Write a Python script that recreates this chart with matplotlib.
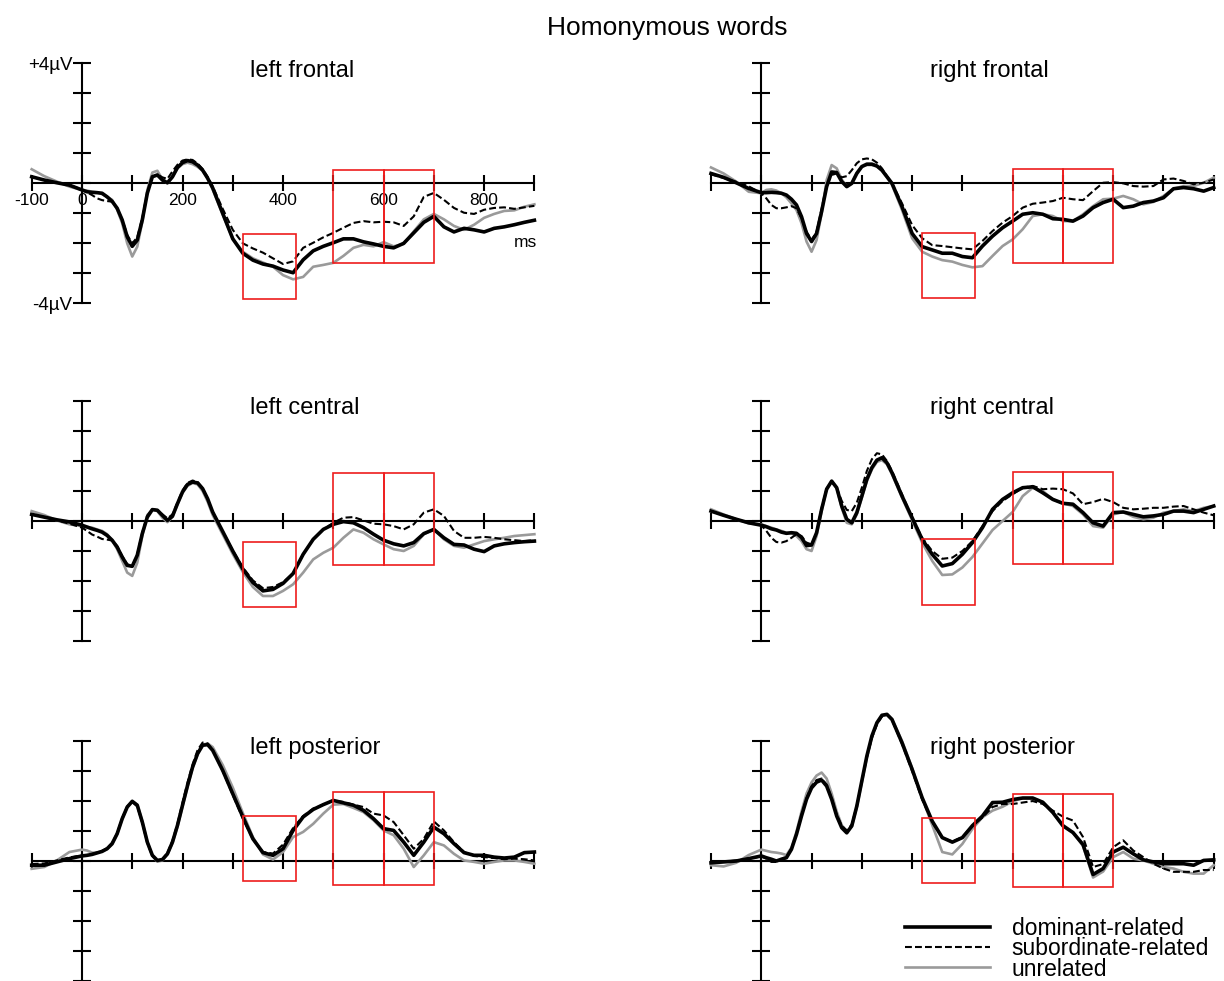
import matplotlib
matplotlib.use("Agg")
import matplotlib.pyplot as plt
from matplotlib.patches import Rectangle
from matplotlib.lines import Line2D

plt.rcParams['font.family'] = ['Liberation Sans', 'DejaVu Sans']

# sample times in ms (denser around the early peaks)
t = [-100, -75, -50, -25, 0] + list(range(10, 261, 10)) + list(range(280, 901, 20))

# ---- amplitudes in microvolts ----
# left frontal
lf_dom = [0.22, 0.11, 0.02, -0.06, -0.22,
          -0.28, -0.30, -0.31, -0.33, -0.45, -0.60, -0.83, -1.22,
          -1.78, -2.10, -1.89, -1.22, -0.33, 0.22, 0.28, 0.11,
          0.02, 0.22, 0.53, 0.69, 0.76, 0.72, 0.61, 0.44,
          0.17, -0.15,
          -1.00, -1.85, -2.33, -2.56, -2.69, -2.76, -2.89, -2.98,
          -2.55, -2.25, -2.10, -1.98, -1.85, -1.85, -1.95, -2.02,
          -2.10, -2.15, -2.00, -1.65, -1.30, -1.10, -1.45, -1.62,
          -1.50, -1.55, -1.62, -1.50, -1.45, -1.38, -1.30, -1.23]
lf_sub = [0.22, 0.11, 0.02, -0.06, -0.20,
          -0.30, -0.39, -0.50, -0.56, -0.59, -0.61, -0.83, -1.20,
          -1.72, -2.00, -1.80, -1.15, -0.30, 0.22, 0.30, 0.20,
          0.15, 0.40, 0.62, 0.76, 0.80, 0.78, 0.66, 0.48,
          0.22, -0.10,
          -0.85, -1.55, -2.00, -2.17, -2.31, -2.50, -2.69, -2.60,
          -2.15, -1.98, -1.80, -1.65, -1.48, -1.32, -1.26, -1.30,
          -1.28, -1.30, -1.42, -1.10, -0.45, -0.32, -0.55, -0.82,
          -0.98, -1.02, -0.88, -0.82, -0.80, -0.85, -0.80, -0.75]
lf_unr = [0.47, 0.24, 0.06, -0.11, -0.22,
          -0.24, -0.28, -0.30, -0.36, -0.45, -0.55, -0.88, -1.33,
          -2.00, -2.44, -2.11, -1.28, -0.22, 0.36, 0.42, 0.13,
          0.00, 0.20, 0.50, 0.64, 0.69, 0.64, 0.55, 0.42,
          0.17, -0.20,
          -1.05, -1.85, -2.28, -2.50, -2.64, -2.78, -3.06, -3.20,
          -3.12, -2.78, -2.72, -2.65, -2.42, -2.15, -2.05, -2.10,
          -1.96, -2.10, -2.02, -1.60, -1.20, -1.02, -1.20, -1.42,
          -1.55, -1.38, -1.15, -1.02, -0.92, -0.90, -0.78, -0.70]

# right frontal
rf_dom = [0.33, 0.20, 0.02, -0.17, -0.31,
          -0.31, -0.30, -0.31, -0.33, -0.39, -0.53, -0.72, -1.11,
          -1.67, -1.94, -1.67, -0.94, -0.11, 0.38, 0.36, 0.06,
          -0.11, 0.00, 0.33, 0.56, 0.64, 0.64, 0.58, 0.44,
          0.22, 0.00,
          -0.78, -1.67, -2.11, -2.22, -2.33, -2.33, -2.44, -2.48,
          -2.09, -1.76, -1.48, -1.26, -1.03, -0.98, -1.03, -1.18,
          -1.20, -1.26, -1.09, -0.81, -0.64, -0.53, -0.81, -0.76,
          -0.64, -0.59, -0.48, -0.18, -0.14, -0.18, -0.26, -0.14]
rf_sub = [0.30, 0.18, 0.05, -0.10, -0.33,
          -0.50, -0.72, -0.83, -0.83, -0.80, -0.76, -0.83, -1.17,
          -1.61, -1.89, -1.61, -0.85, -0.05, 0.28, 0.33, 0.20,
          0.24, 0.44, 0.67, 0.80, 0.83, 0.80, 0.69, 0.50,
          0.24, 0.00,
          -0.67, -1.39, -1.83, -2.06, -2.09, -2.13, -2.17, -2.20,
          -1.92, -1.59, -1.31, -1.09, -0.81, -0.68, -0.64, -0.59,
          -0.48, -0.53, -0.56, -0.26, 0.02, 0.04, 0.00, -0.09,
          -0.11, -0.09, 0.13, 0.16, 0.08, -0.03, 0.02, 0.13]
rf_unr = [0.53, 0.33, 0.06, -0.28, -0.33,
          -0.22, -0.20, -0.24, -0.33, -0.47, -0.67, -0.89, -1.33,
          -1.94, -2.28, -1.89, -1.00, 0.11, 0.61, 0.50, 0.13,
          -0.11, 0.00, 0.36, 0.56, 0.61, 0.61, 0.56, 0.42,
          0.20, -0.05,
          -0.89, -1.83, -2.28, -2.44, -2.56, -2.61, -2.72, -2.80,
          -2.76, -2.42, -2.09, -1.87, -1.53, -1.09, -1.03, -1.09,
          -1.26, -1.26, -1.03, -0.76, -0.53, -0.51, -0.42, -0.53,
          -0.70, -0.62, -0.42, -0.18, -0.09, -0.09, 0.02, 0.19]

# left central
lc_dom = [0.22, 0.13, 0.04, -0.03, -0.14,
          -0.20, -0.26, -0.31, -0.37, -0.48, -0.64, -0.87, -1.20,
          -1.48, -1.51, -1.14, -0.42, 0.13, 0.38, 0.36, 0.19,
          0.02, 0.16, 0.58, 0.97, 1.22, 1.30, 1.27, 1.08,
          0.74, 0.30,
          -0.35, -1.00, -1.60, -2.05, -2.33, -2.28, -2.08, -1.75,
          -1.11, -0.61, -0.28, -0.11, -0.02, -0.06, -0.22, -0.44,
          -0.64, -0.76, -0.83, -0.72, -0.42, -0.28, -0.56, -0.78,
          -0.80, -0.94, -1.02, -0.83, -0.76, -0.72, -0.69, -0.67]
lc_sub = [0.22, 0.13, 0.02, -0.09, -0.22,
          -0.33, -0.45, -0.52, -0.60, -0.62, -0.65, -0.83, -1.17,
          -1.44, -1.50, -1.11, -0.38, 0.18, 0.39, 0.36, 0.22,
          0.09, 0.22, 0.62, 1.02, 1.27, 1.35, 1.30, 1.10,
          0.74, 0.30,
          -0.35, -0.98, -1.55, -1.98, -2.24, -2.20, -2.04, -1.75,
          -1.11, -0.61, -0.28, -0.06, 0.11, 0.13, 0.02, -0.09,
          -0.11, -0.17, -0.28, -0.11, 0.28, 0.39, 0.17, -0.33,
          -0.56, -0.56, -0.53, -0.56, -0.61, -0.64, -0.67, -0.64]
lc_unr = [0.33, 0.20, 0.02, -0.11, -0.17,
          -0.20, -0.22, -0.28, -0.33, -0.44, -0.64, -0.94, -1.33,
          -1.72, -1.83, -1.39, -0.50, 0.20, 0.39, 0.33, 0.11,
          -0.04, 0.14, 0.56, 0.94, 1.17, 1.27, 1.22, 1.00,
          0.64, 0.20,
          -0.45, -1.10, -1.70, -2.20, -2.50, -2.50, -2.33, -2.11,
          -1.72, -1.28, -1.06, -0.89, -0.56, -0.28, -0.39, -0.61,
          -0.78, -0.94, -1.00, -0.83, -0.44, -0.28, -0.61, -0.83,
          -0.89, -0.78, -0.67, -0.61, -0.56, -0.50, -0.47, -0.44]

# right central
rc_dom = [0.33, 0.19, 0.06, -0.06, -0.14,
          -0.19, -0.26, -0.30, -0.37, -0.41, -0.39, -0.41, -0.55,
          -0.82, -0.80, -0.39, 0.39, 1.06, 1.33, 1.11, 0.50,
          0.06, -0.06, 0.28, 0.83, 1.39, 1.78, 2.03, 2.11,
          1.94, 1.61,
          0.83, 0.11, -0.61, -1.11, -1.50, -1.42, -1.11, -0.72,
          -0.22, 0.39, 0.72, 0.94, 1.11, 1.14, 0.94, 0.72,
          0.59, 0.56, 0.28, -0.06, -0.17, 0.28, 0.30, 0.22,
          0.14, 0.17, 0.22, 0.33, 0.33, 0.28, 0.39, 0.50]
rc_sub = [0.33, 0.19, 0.06, -0.06, -0.14,
          -0.33, -0.56, -0.70, -0.72, -0.67, -0.56, -0.44, -0.50,
          -0.72, -0.78, -0.39, 0.44, 1.08, 1.30, 1.11, 0.67,
          0.37, 0.33, 0.61, 1.11, 1.67, 2.06, 2.26, 2.22,
          2.00, 1.67,
          0.89, 0.11, -0.56, -1.00, -1.26, -1.22, -1.00, -0.67,
          -0.17, 0.33, 0.67, 0.89, 1.11, 1.17, 1.06, 1.08,
          1.06, 0.92, 0.56, 0.63, 0.74, 0.63, 0.44, 0.39,
          0.41, 0.44, 0.44, 0.48, 0.50, 0.39, 0.28, 0.19]
rc_unr = [0.39, 0.22, 0.06, -0.08, -0.11,
          -0.17, -0.22, -0.28, -0.33, -0.39, -0.41, -0.50, -0.67,
          -0.94, -1.00, -0.50, 0.33, 1.08, 1.33, 1.11, 0.44,
          -0.06, -0.11, 0.22, 0.78, 1.33, 1.72, 1.97, 2.03,
          1.89, 1.56,
          0.78, 0.03, -0.72, -1.33, -1.80, -1.78, -1.55, -1.20,
          -0.75, -0.30, 0.00, 0.30, 0.83, 1.11, 1.00, 0.72,
          0.59, 0.50, 0.22, -0.17, -0.22, 0.22, 0.30, 0.14,
          0.06, 0.11, 0.28, 0.33, 0.39, 0.33, 0.44, 0.50]

# left posterior
lp_dom = [-0.14, -0.14, -0.03, 0.08, 0.17,
          0.19, 0.22, 0.27, 0.32, 0.41, 0.58, 0.91, 1.41,
          1.80, 1.99, 1.86, 1.30, 0.63, 0.19, 0.02, 0.05,
          0.24, 0.63, 1.19, 1.86, 2.52, 3.13, 3.58, 3.86,
          3.88, 3.69,
          3.02, 2.24, 1.47, 0.74, 0.28, 0.19, 0.41, 1.02,
          1.47, 1.72, 1.88, 2.02, 1.94, 1.86, 1.69, 1.41,
          1.08, 1.02, 0.63, 0.19, 0.63, 1.13, 0.91, 0.58,
          0.28, 0.19, 0.19, 0.13, 0.10, 0.13, 0.28, 0.30]
lp_sub = [-0.10, -0.08, 0.02, 0.12, 0.19,
          0.20, 0.24, 0.28, 0.34, 0.43, 0.60, 0.93, 1.43,
          1.82, 1.97, 1.82, 1.26, 0.60, 0.17, 0.02, 0.06,
          0.27, 0.68, 1.25, 1.95, 2.62, 3.22, 3.70, 3.95,
          3.92, 3.70,
          3.00, 2.20, 1.42, 0.72, 0.30, 0.25, 0.55, 1.10,
          1.50, 1.75, 1.88, 2.02, 1.97, 1.88, 1.80, 1.58,
          1.52, 1.30, 0.86, 0.41, 0.74, 1.32, 1.02, 0.63,
          0.30, 0.17, 0.13, 0.10, 0.06, 0.08, 0.06, 0.02]
lp_unr = [-0.26, -0.20, 0.02, 0.30, 0.38,
          0.35, 0.28, 0.28, 0.33, 0.40, 0.55, 0.90, 1.40,
          1.80, 2.00, 1.88, 1.32, 0.63, 0.18, -0.02, 0.02,
          0.22, 0.60, 1.15, 1.82, 2.48, 3.10, 3.56, 3.88,
          3.92, 3.80,
          3.20, 2.45, 1.60, 0.80, 0.22, 0.05, 0.30, 0.80,
          0.97, 1.24, 1.58, 1.88, 1.90, 1.77, 1.63, 1.36,
          1.02, 0.86, 0.41, -0.20, 0.19, 0.63, 0.52, 0.24,
          0.02, -0.03, -0.09, -0.03, 0.02, 0.02, -0.03, -0.09]

# right posterior
rp_dom = [-0.06, -0.03, 0.00, 0.08, 0.17,
          0.11, 0.06, 0.00, 0.06, 0.11, 0.39, 0.89, 1.50,
          2.06, 2.44, 2.63, 2.70, 2.50, 2.06, 1.50, 1.11,
          0.94, 1.17, 1.83, 2.67, 3.50, 4.17, 4.61, 4.86,
          4.89, 4.72,
          3.94, 3.06, 2.11, 1.33, 0.78, 0.63, 0.78, 1.18,
          1.50, 1.95, 1.96, 2.05, 2.10, 2.10, 1.96, 1.62,
          1.18, 0.95, 0.55, -0.45, -0.25, 0.30, 0.46, 0.24,
          0.04, -0.03, -0.09, -0.09, -0.09, -0.14, 0.02, 0.04]
rp_sub = [-0.06, -0.03, 0.02, 0.08, 0.15,
          0.08, -0.03, -0.03, 0.06, 0.15, 0.42, 0.92, 1.55,
          2.10, 2.50, 2.70, 2.75, 2.55, 2.10, 1.55, 1.18,
          1.02, 1.22, 1.85, 2.65, 3.45, 4.10, 4.55, 4.82,
          4.88, 4.70,
          3.90, 3.00, 2.05, 1.30, 0.78, 0.65, 0.80, 1.18,
          1.45, 1.80, 1.90, 1.90, 1.95, 2.00, 1.90, 1.68,
          1.48, 1.35, 0.80, -0.20, -0.10, 0.46, 0.69, 0.35,
          0.13, -0.09, -0.25, -0.36, -0.36, -0.36, -0.30, -0.30]
rp_unr = [-0.14, -0.18, -0.06, 0.20, 0.38,
          0.34, 0.30, 0.28, 0.25, 0.20, 0.45, 0.98, 1.65,
          2.25, 2.62, 2.85, 2.95, 2.75, 2.25, 1.65, 1.20,
          0.98, 1.15, 1.80, 2.62, 3.45, 4.12, 4.58, 4.84,
          4.88, 4.73,
          4.00, 3.10, 2.10, 1.20, 0.30, 0.22, 0.57, 1.07,
          1.46, 1.68, 1.81, 1.99, 2.10, 2.10, 1.96, 1.60,
          1.15, 0.95, 0.50, -0.55, -0.35, 0.13, 0.30, 0.08,
          0.02, -0.09, -0.20, -0.25, -0.36, -0.42, -0.42, -0.14]

# analysis windows (ms) and the vertical extent of the boxes (uV)
n400_win = (320, 425)
late_wins = [(500, 600), (600, 700)]
lf_box = [(-3.85, -1.68), (-2.65, 0.45)]
rf_box = [(-3.83, -1.65), (-2.65, 0.47)]
lc_box = [(-2.87, -0.70), (-1.48, 1.61)]
rc_box = [(-2.80, -0.61), (-1.44, 1.65)]
lp_box = [(-0.68, 1.50), (-0.79, 2.30)]
rp_box = [(-0.72, 1.44), (-0.86, 2.24)]

names = ["left frontal", "right frontal", "left central",
         "right central", "left posterior", "right posterior"]
labels = ["dominant-related", "subordinate-related", "unrelated"]

GRAY = '#9a9a9a'
DASH = (0, (3.3, 1.5))

fig = plt.figure(figsize=(12.24, 9.81), dpi=100)

# axes rectangles in figure fraction
lefts = [0.0259, 0.5809]
bottoms = [0.6908, 0.3466, 0.0]
W, H = 0.4107, 0.2446

panels = [
    (lf_dom, lf_sub, lf_unr, lf_box),
    (rf_dom, rf_sub, rf_unr, rf_box),
    (lc_dom, lc_sub, lc_unr, lc_box),
    (rc_dom, rc_sub, rc_unr, rc_box),
    (lp_dom, lp_sub, lp_unr, lp_box),
    (rp_dom, rp_sub, rp_unr, rp_box),
]

for i, (dom, sub, unr, box) in enumerate(panels):
    ax = fig.add_axes([lefts[i % 2], bottoms[i // 2], W, H])
    ax.patch.set_visible(False)
    ax.set_xlim(-100, 900)
    ax.set_ylim(-4, 4)

    ax.plot(t, unr, color=GRAY, lw=1.9, clip_on=False, zorder=3)
    ax.plot(t, sub, color='black', lw=1.5, ls=DASH, clip_on=False, zorder=4)
    ax.plot(t, dom, color='black', lw=2.6, clip_on=False, zorder=5)

    lo, hi = box[0]
    ax.add_patch(Rectangle((n400_win[0], lo), n400_win[1] - n400_win[0], hi - lo,
                           fill=False, ec='#ee1c1c', lw=1.2, zorder=6, clip_on=False))
    lo, hi = box[1]
    for a, b in late_wins:
        ax.add_patch(Rectangle((a, lo), b - a, hi - lo, fill=False,
                               ec='#ee1c1c', lw=1.2, zorder=6, clip_on=False))

    for s in ['top', 'right']:
        ax.spines[s].set_visible(False)
    ax.spines['left'].set_position(('data', 0))
    ax.spines['bottom'].set_position(('data', 0))
    ax.spines['left'].set_linewidth(1.5)
    ax.spines['bottom'].set_linewidth(1.5)
    ax.set_xticks(range(-100, 901, 100))
    ax.set_yticks(range(-4, 5))
    ax.tick_params(axis='x', direction='inout', length=11.5, width=1.5, pad=1.5,
                   labelsize=12.5)
    ax.tick_params(axis='y', direction='inout', length=13, width=1.5, pad=0.5,
                   labelsize=13.5)

    if i == 0:
        ax.set_xticklabels(['-100', '0', '', '200', '', '400', '', '600', '', '800', ''])
        ax.set_yticklabels(['-4µV', '', '', '', '', '', '', '', '+4µV'])
        ax.text(905, -1.96, 'ms', fontsize=12.5, ha='right', va='center')
    else:
        ax.set_xticklabels([])
        ax.set_yticklabels([])

    ax.text(335, 3.76, names[i], fontsize=17, ha='left', va='center')

fig.text(0.545, 0.9715, 'Homonymous words', fontsize=19, ha='center', va='center')

handles = [Line2D([], [], color='black', lw=2.6),
           Line2D([], [], color='black', lw=1.5, ls=DASH),
           Line2D([], [], color=GRAY, lw=1.9)]
fig.legend(handles, labels, loc='upper left', bbox_to_anchor=(905 / 1224, 1 - 917 / 981),
           frameon=False, fontsize=16.5, handlelength=3.7, handletextpad=0.95,
           labelspacing=-0.12, borderpad=0, borderaxespad=0)

fig.savefig('out.png', dpi=100)
